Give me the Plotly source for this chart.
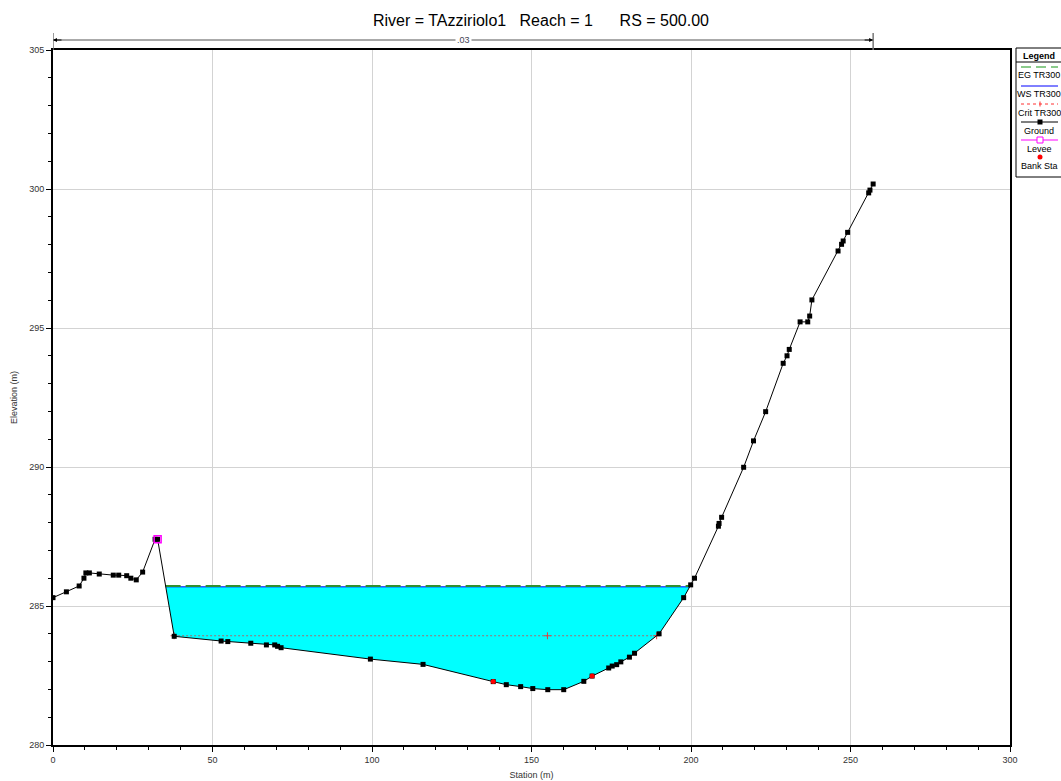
import numpy as np
import plotly.graph_objects as go

# ---------------- data ----------------
ground_x = [0.0, 4.2, 8.2, 9.7, 10.3, 11.4, 14.5, 18.9, 20.6, 23.1, 24.4, 26.1, 28.1, 32.0, 32.8,
            38.0, 52.7, 54.8, 62.0, 66.9, 69.5, 70.4, 71.5, 99.5, 116.0,
            138.0, 142.1, 146.6, 150.4, 155.1, 160.1, 166.4, 169.0, 174.2, 175.3, 176.7, 178.0,
            180.7, 182.3, 190.0, 197.7, 199.9, 201.1, 208.6, 208.8, 209.6, 216.5, 219.6, 223.4,
            228.9, 230.1, 230.8, 234.2, 236.6, 237.2, 237.9, 246.1, 247.2, 247.7, 249.1, 255.7,
            256.1, 257.1]
ground_y = [285.30, 285.51, 285.72, 286.00, 286.19, 286.19, 286.15, 286.11, 286.11, 286.09, 286.00,
            285.94, 286.22, 287.40, 287.40,
            283.91, 283.74, 283.72, 283.66, 283.60, 283.60, 283.55, 283.50, 283.09, 282.90,
            282.28, 282.17, 282.10, 282.03, 281.99, 281.99, 282.29, 282.48, 282.77, 282.84, 282.89, 282.99,
            283.16, 283.30, 284.00, 285.30, 285.76, 286.00, 287.87, 287.97, 288.19, 289.99, 290.94, 291.99,
            293.73, 294.00, 294.23, 295.22, 295.22, 295.43, 296.01, 297.77, 298.01, 298.13, 298.44, 299.86,
            299.96, 300.18]

ws_elev = 285.69      # WS TR300
eg_elev = 285.72      # EG TR300
crit_elev = 283.93    # Crit TR300
crit_mark_x = 155.0   # position of the Crit "+" symbol
levee_x = [32.8]
levee_y = [287.40]
bank_x = [138.0, 169.0]
bank_y = [282.28, 282.48]
mann_n = [".03"]
mann_sta = [0.0, 257.1]

title = "River = TAzziriolo1   Reach = 1      RS = 500.00"

# ------------- helpers -------------
gx = np.array(ground_x)
gy = np.array(ground_y)
imin = int(np.argmin(gy))


def crossings(level):
    # left: last downward crossing before min; right: first upward crossing after min
    xl = None
    for i in range(imin):
        y0, y1 = gy[i], gy[i + 1]
        if y0 >= level > y1:
            xl = (i, gx[i] + (y0 - level) / (y0 - y1) * (gx[i + 1] - gx[i]))
    xr = None
    for i in range(imin, len(gx) - 1):
        y0, y1 = gy[i], gy[i + 1]
        if y0 < level <= y1:
            xr = (i, gx[i] + (level - y0) / (y1 - y0) * (gx[i + 1] - gx[i]))
            break
    return xl, xr


(il, wl), (ir, wr) = crossings(ws_elev)
poly_x = [wl] + list(gx[il + 1:ir + 1]) + [wr, wl]
poly_y = [ws_elev] + list(gy[il + 1:ir + 1]) + [ws_elev, ws_elev]

(_, cl), (_, cr) = crossings(crit_elev)
(_, el), (_, er) = crossings(eg_elev)

CRIT_COL = "#a07070"
EG_COL = "#2f8f2f"

fig = go.Figure()

fig.add_trace(go.Scatter(x=poly_x, y=poly_y, fill="toself", fillcolor="#00FFFF",
                         mode="lines", line=dict(width=0), hoverinfo="skip", showlegend=False))
fig.add_trace(go.Scatter(x=[wl, wr], y=[ws_elev, ws_elev], mode="lines",
                         line=dict(color="blue", width=1), name="WS TR300", showlegend=False))
fig.add_trace(go.Scatter(x=[el, er], y=[eg_elev, eg_elev], mode="lines",
                         line=dict(color=EG_COL, width=2, dash="15px,5px"), name="EG TR300", showlegend=False))
fig.add_trace(go.Scatter(x=[cl, cr], y=[crit_elev] * 2, mode="lines",
                         line=dict(color=CRIT_COL, width=1, dash="2px,2px"),
                         name="Crit TR300", showlegend=False))
fig.add_trace(go.Scatter(x=[cl, crit_mark_x, cr], y=[crit_elev] * 3, mode="markers",
                         marker=dict(symbol="cross-thin", size=5, color="#e04040",
                                     line=dict(color="#e04040", width=1)),
                         hoverinfo="skip", showlegend=False))
fig.add_trace(go.Scatter(x=ground_x, y=ground_y, mode="lines+markers",
                         line=dict(color="black", width=1),
                         marker=dict(symbol="square", size=5, color="black"),
                         name="Ground", showlegend=False))
fig.add_trace(go.Scatter(x=levee_x, y=levee_y, mode="markers",
                         marker=dict(symbol="square-open", size=7, color="#ff00ff", line=dict(width=1.5)),
                         name="Levee", showlegend=False))
fig.add_trace(go.Scatter(x=bank_x, y=bank_y, mode="markers",
                         marker=dict(symbol="circle", size=5, color="red"),
                         name="Bank Sta", showlegend=False))

# ------------- layout -------------
W, H = 1061, 781
L, R, T, B = 53, 51, 50, 36
PW, PH = W - L - R, H - T - B


def pxx(x):
    return (x - L) / PW


def pxy(y):
    return (H - B - y) / PH


FONT = "Liberation Sans, Arial, sans-serif"

shapes = []
annotations = []

# Manning's n bracket above the plot
yb = pxy(40)
shapes.append(dict(type="line", xref="x", yref="paper", x0=mann_sta[0], x1=mann_sta[1], y0=yb, y1=yb,
                   line=dict(color="#555", width=1)))
for s in mann_sta:
    shapes.append(dict(type="line", xref="x", yref="paper", x0=s, x1=s, y0=pxy(33), y1=1.0,
                       line=dict(color="#777", width=1.5)))
annotations.append(dict(x=mann_sta[0], y=yb, xref="x", yref="paper", ax=10, ay=0, text="",
                        showarrow=True, arrowhead=2, arrowsize=0.8, arrowwidth=1, arrowcolor="black"))
annotations.append(dict(x=mann_sta[1], y=yb, xref="x", yref="paper", ax=-10, ay=0, text="",
                        showarrow=True, arrowhead=2, arrowsize=0.8, arrowwidth=1, arrowcolor="black"))
annotations.append(dict(x=(mann_sta[0] + mann_sta[1]) / 2, y=yb, xref="x", yref="paper", text=mann_n[0],
                        xanchor="center", yanchor="middle",
                        showarrow=False, bgcolor="white", font=dict(family=FONT, size=9, color="#445"),
                        borderpad=1))

# custom legend box
lx0, lx1 = 1016, 1075
shapes.append(dict(type="rect", xref="paper", yref="paper", x0=pxx(lx0), x1=pxx(lx1), y0=pxy(177), y1=pxy(48),
                   line=dict(color="black", width=1), fillcolor="white", layer="above"))
shapes.append(dict(type="line", xref="paper", yref="paper", x0=pxx(lx0), x1=pxx(lx1), y0=pxy(62), y1=pxy(62),
                   line=dict(color="black", width=1)))
annotations.append(dict(x=pxx(1039), y=pxy(55.5), xref="paper", yref="paper", text="<b>Legend</b>",
                        xanchor="center", yanchor="middle",
                        showarrow=False, font=dict(family=FONT, size=9, color="black")))

items = [
    ("EG TR300", 67, dict(color="#66bb66", width=1.5, dash="10px,5px"), None),
    ("WS TR300", 86, dict(color="blue", width=1), None),
    ("Crit TR300", 104, dict(color="#ff3030", width=1, dash="dot"), "cross"),
    ("Ground", 122, dict(color="black", width=1), "sq"),
    ("Levee", 140, dict(color="#ff00ff", width=1), "sqopen"),
    ("Bank Sta", 157, None, "dot"),
]
for name, ly, ln, sym in items:
    if ln is not None:
        shapes.append(dict(type="line", xref="paper", yref="paper", x0=pxx(1021), x1=pxx(1058),
                           y0=pxy(ly), y1=pxy(ly), line=ln, layer="above"))
    cx = 1040
    if sym == "sq":
        shapes.append(dict(type="rect", xref="paper", yref="paper", x0=pxx(cx - 2.5), x1=pxx(cx + 2.5),
                           y0=pxy(ly + 2.5), y1=pxy(ly - 2.5), fillcolor="black", line=dict(width=0),
                           layer="above"))
    elif sym == "sqopen":
        shapes.append(dict(type="rect", xref="paper", yref="paper", x0=pxx(cx - 3), x1=pxx(cx + 3),
                           y0=pxy(ly + 3), y1=pxy(ly - 3), fillcolor="white",
                           line=dict(color="#ff00ff", width=1), layer="above"))
    elif sym == "cross":
        shapes.append(dict(type="line", xref="paper", yref="paper", x0=pxx(cx), x1=pxx(cx),
                           y0=pxy(ly + 2.5), y1=pxy(ly - 2.5), line=dict(color="#ff3030", width=1),
                           layer="above"))
    elif sym == "dot":
        shapes.append(dict(type="circle", xref="paper", yref="paper", x0=pxx(cx - 2.5), x1=pxx(cx + 2.5),
                           y0=pxy(ly + 2.5), y1=pxy(ly - 2.5), fillcolor="red", line=dict(width=0),
                           layer="above"))
    annotations.append(dict(x=pxx(1039), y=pxy(ly + 8.5), xref="paper", yref="paper", text=name,
                            xanchor="center", yanchor="middle",
                            showarrow=False, font=dict(family=FONT, size=9, color="black")))

fig.update_layout(
    width=W, height=H,
    margin=dict(l=L, r=R, t=T, b=B, pad=0, autoexpand=False),
    paper_bgcolor="white", plot_bgcolor="white",
    title=dict(text=title, x=541 / W, xref="container", y=1 - 20 / H,
               xanchor="center", yanchor="middle", automargin=False,
               font=dict(family=FONT, size=16, color="black")),
    font=dict(family=FONT, size=9, color="#333"),
    showlegend=False,
    shapes=shapes,
    annotations=annotations,
)
fig.update_xaxes(range=[0, 300], dtick=50, tick0=0, showgrid=True, gridcolor="#d3d3d3", gridwidth=1,
                 showline=True, linecolor="black", linewidth=2, mirror=True, automargin=False,
                 ticks="outside", ticklen=5, tickcolor="black", zeroline=False,
                 minor=dict(dtick=10, ticks="outside", ticklen=3, tickcolor="black", showgrid=False),
                 title=dict(text="Station (m)", standoff=8, font=dict(family=FONT, size=9, color="#333")),
                 tickfont=dict(family=FONT, size=9, color="#333"))
fig.update_yaxes(range=[280, 305], dtick=5, tick0=280, showgrid=True, gridcolor="#d3d3d3", gridwidth=1,
                 showline=True, linecolor="black", linewidth=2, mirror=True, automargin=False,
                 ticks="outside", ticklen=5, tickcolor="black", zeroline=False,
                 minor=dict(dtick=1, ticks="outside", ticklen=3, tickcolor="black", showgrid=False),
                 title=dict(text="Elevation (m)", standoff=10, font=dict(family=FONT, size=9, color="#333")),
                 tickfont=dict(family=FONT, size=9, color="#333"))

fig.write_html("out.html", config={"displayModeBar": False},
               post_script="document.body.style.margin='0';document.body.style.overflow='hidden';")
